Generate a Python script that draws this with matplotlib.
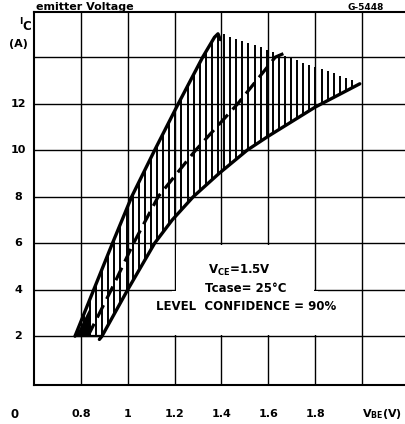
import numpy as np
import matplotlib
matplotlib.use("Agg")
import matplotlib.pyplot as plt
from matplotlib.patches import Rectangle
import matplotlib.transforms as mtransforms

plt.rcParams['font.family'] = ['DejaVu Sans']
plt.rcParams['lines.scale_dashes'] = False

# ---- data ----
upper_x = [0.775, 0.855, 0.935, 1.017, 1.115, 1.216, 1.32, 1.37, 1.385, 1.395]
upper_y = [2.0, 4.0, 6.0, 8.0, 10.0, 12.0, 14.0, 14.85, 15.0, 14.75]

lower_x = [0.879, 0.89, 1.0, 1.115, 1.19, 1.28, 1.39, 1.51, 1.6, 1.8, 1.99]
lower_y = [1.86, 2.0, 4.0, 6.0, 7.0, 8.0, 9.0, 10.0, 10.6, 11.85, 12.85]

median_x = [0.83, 0.93, 1.025, 1.13, 1.29, 1.47, 1.63, 1.665]
median_y = [2.0, 4.0, 6.0, 8.0, 10.0, 12.0, 14.0, 14.15]

hatch_top_x = [1.39, 1.99]
hatch_top_y = [15.05, 12.9]

x_grid = [0.8, 1.0, 1.2, 1.4, 1.6, 1.8, 2.0]
y_grid = [2, 4, 6, 8, 10, 12, 14]
x_tick_vals = [0.8, 1.0, 1.2, 1.4, 1.6, 1.8]
x_tick_labels = ["0.8", "1", "1.2", "1.4", "1.6", "1.8"]
y_tick_vals = [2, 4, 6, 8, 10, 12]
y_tick_labels = ["2", "4", "6", "8", "10", "12"]

W, H = 405, 424
fig = plt.figure(figsize=(W / 100, H / 100), dpi=100)
fig.patch.set_facecolor('white')
ax = fig.add_axes([34 / W, (H - 385) / H, (409 - 34) / W, (385 - 11.7) / H])
ax.set_xlim(0.6, 2.2)
ax.set_ylim(-0.1, 15.95)
ax.set_xticks([])
ax.set_yticks([])
for s in ax.spines.values():
    s.set_linewidth(1.5)
    s.set_color('black')

# grid
for xv in x_grid:
    ax.axvline(xv, color='black', lw=1.0, zorder=0.5)
for yv in y_grid:
    ax.axhline(yv, color='black', lw=1.0, zorder=0.5)

# blank area behind annotation text
ax.add_patch(Rectangle((1.205, 2.05), 0.59, 3.85, facecolor='white',
                       edgecolor='none', zorder=0.8))
ax.add_patch(Rectangle((1.19, 2.05), 0.62, 1.9, facecolor='white',
                       edgecolor='none', zorder=0.8))

# hatching
hx = np.arange(0.787, 1.975, 0.026)
for x in hx:
    if x < lower_x[1]:
        lo = 2.0
    else:
        lo = np.interp(x, lower_x, lower_y)
    if x <= 1.385:
        hi = np.interp(x, upper_x, upper_y)
    else:
        hi = np.interp(x, hatch_top_x, hatch_top_y)
    if hi > lo:
        ax.vlines(x, lo, hi, color='black', lw=1.4, zorder=2)

# small solid corner at the start of the band
ax.fill_between([upper_x[0], 0.84], [2.0, 2.0], [2.0, 2.0 + (0.84 - 0.775) * 20],
                color='black', zorder=2, lw=0)

ax.plot(upper_x, upper_y, color='black', lw=2.4, zorder=3,
        solid_capstyle='round', solid_joinstyle='round')
ax.plot(lower_x, lower_y, color='black', lw=2.4, zorder=3,
        solid_capstyle='round', solid_joinstyle='round')
ax.plot(median_x, median_y, color='black', lw=2.3, zorder=3,
        dashes=(10, 5))
ax.plot([upper_x[0], lower_x[1]], [2.0, 2.0], color='black', lw=1.6, zorder=3)

# tick labels
tb = mtransforms.blended_transform_factory(ax.transData, fig.transFigure)
ylab = 1 - 414 / H
for v, t in zip(x_tick_vals, x_tick_labels):
    fig.text(v, ylab, t, transform=tb, ha='center', va='center',
             fontsize=8, fontweight='bold')
fig.text(15 / W, ylab, "0", ha='center', va='center', fontsize=8.5, fontweight='bold')
fig.text(362 / W, ylab, r"V$_{\mathbf{BE}}$(V)", ha='left', va='center',
         fontsize=8, fontweight='bold')

tl = mtransforms.blended_transform_factory(fig.transFigure, ax.transData)
for v, t in zip(y_tick_vals, y_tick_labels):
    fig.text(18 / W, v, t, transform=tl, ha='center', va='center',
             fontsize=8, fontweight='bold')
fig.text(21 / W, 1 - 22 / H, "I", ha='center', va='center', fontsize=6.5, fontweight='bold')
fig.text(27 / W, 1 - 26 / H, "C", ha='center', va='center', fontsize=8.5, fontweight='bold')
fig.text(18 / W, 1 - 44 / H, "(A)", ha='center', va='center', fontsize=8, fontweight='bold')

# title fragments (at the top edge)
fig.text(36 / W, 1 - 10 / H, "emitter Voltage", ha='left', va='baseline',
         fontsize=8, fontweight='bold')
fig.text(366 / W, 1 - 9.5 / H, "G-5448", ha='center', va='baseline',
         fontsize=6.5, fontweight='bold')

# annotation
fig.text(208 / W, 1 - 270 / H, r"V$_{\mathbf{CE}}$=1.5V", ha='left', va='center',
         fontsize=8.5, fontweight='bold')
fig.text(205 / W, 1 - 288 / H, "Tcase= 25°C", ha='left', va='center',
         fontsize=8.5, fontweight='bold')
fig.text(246 / W, 1 - 306 / H, "LEVEL  CONFIDENCE = 90%", ha='center', va='center',
         fontsize=8.5, fontweight='bold')

fig.savefig("out.png", dpi=100, facecolor='white')
